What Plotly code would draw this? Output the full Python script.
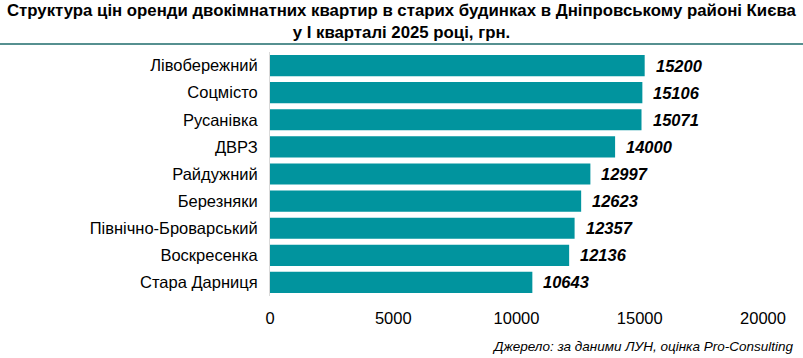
import plotly.graph_objects as go

categories = ["Лівобережний", "Соцмісто", "Русанівка", "ДВРЗ", "Райдужний",
              "Березняки", "Північно-Броварський", "Воскресенка", "Стара Дарниця"]
values = [15200, 15106, 15071, 14000, 12997, 12623, 12357, 12136, 10643]
x_ticks = [0, 5000, 10000, 15000, 20000]

title_text = "Структура цін оренди двокімнатних квартир в старих будинках в Дніпровському районі Києва<br>у I кварталі 2025 році, грн."
source_text = "Джерело: за даними ЛУН, оцінка Pro-Consulting"

bar_color = "#01949E"

W, H = 803, 358
ml, mr, mt, mb = 270, 40, 52, 62
pw = W - ml - mr
ph = H - mt - mb

fig = go.Figure(go.Bar(
    x=values, y=categories, orientation="h",
    marker=dict(color=bar_color, line=dict(width=0)),
    width=0.78, hoverinfo="skip",
))

for c, v in zip(categories, values):
    fig.add_annotation(x=v, y=c, xref="x", yref="y", text=f"<b><i>{v}</i></b>",
                       showarrow=False, xanchor="left", xshift=9,
                       font=dict(family="Liberation Sans, Arial", size=16.5, color="#000000"))

fig.add_annotation(x=(W / 2 - ml) / pw, y=1, xref="paper", yref="paper", yanchor="top",
                   xanchor="center", yshift=mt + 1, text=f"<b>{title_text}</b>",
                   showarrow=False,
                   font=dict(family="Liberation Sans, Arial", size=16.8, color="#000000"))
fig.add_annotation(x=1, y=0, xref="paper", yref="paper", xanchor="right",
                   yanchor="middle", xshift=33, yshift=-50,
                   text=f"<i>{source_text}</i>", showarrow=False,
                   font=dict(family="Liberation Sans, Arial", size=13.5, color="#000000"))

fig.add_shape(type="line", xref="paper", yref="paper",
              x0=-ml / pw, x1=1 + mr / pw, y0=1 + 8 / ph, y1=1 + 8 / ph,
              line=dict(color="#1E6B6B", width=1.5))

fig.update_layout(
    width=W, height=H,
    margin=dict(l=ml, r=mr, t=mt, b=mb, pad=0),
    paper_bgcolor="white", plot_bgcolor="white",
    showlegend=False,
    xaxis=dict(range=[0, 20000], tickvals=x_ticks, ticktext=[str(t) for t in x_ticks],
               showgrid=False, zeroline=False, showline=False, ticks="",
               ticklabelstandoff=10,
               tickfont=dict(family="Liberation Sans, Arial", size=16.5, color="#000000")),
    yaxis=dict(autorange="reversed", showgrid=False, zeroline=False,
               showline=True, linecolor="#D9D9D9", linewidth=1, ticks="",
               ticklabelstandoff=8,
               tickfont=dict(family="Liberation Sans, Arial", size=16.5, color="#000000")),
)

fig.write_html("out.html", config={"displayModeBar": False},
               post_script="document.body.style.margin='0';")
